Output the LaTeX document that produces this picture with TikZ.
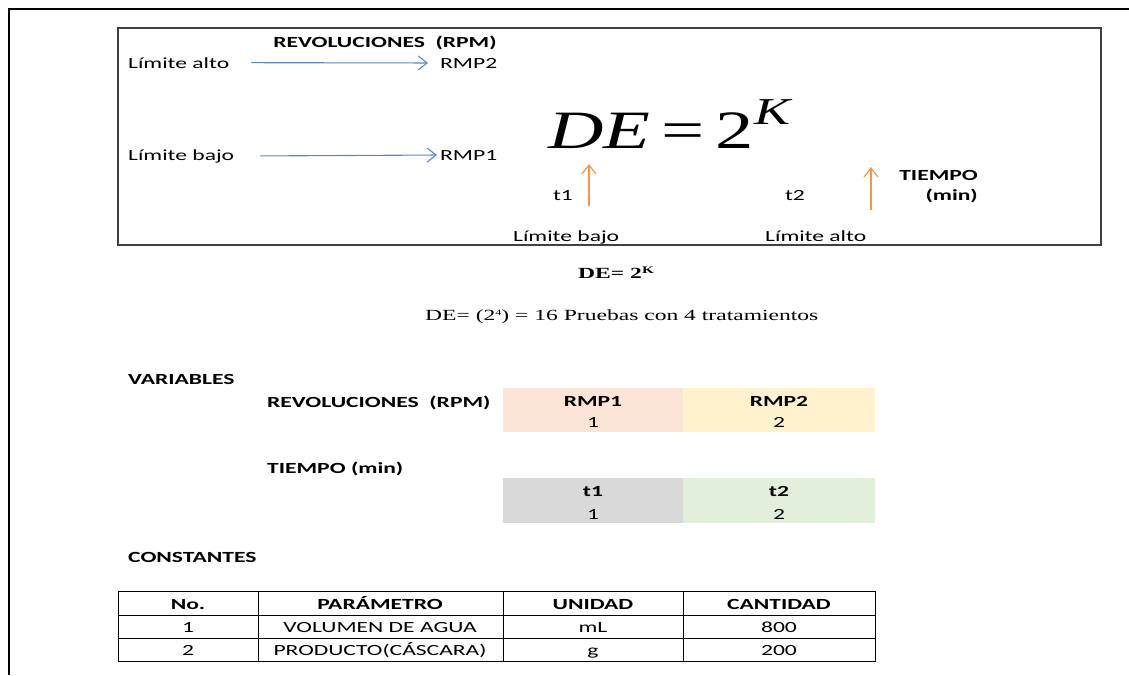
\documentclass[tikz,border=0pt]{standalone}
\usepackage{fontspec}
\setmainfont{Carlito}[FakeStretch=1.52]
\newfontfamily\tnr{Liberation Serif}[FakeStretch=1.52]
\newfontfamily\eqf{Liberation Serif}[FakeStretch=1.42]
\usetikzlibrary{arrows.meta}
\definecolor{arrblue}{HTML}{5B87C8}
\definecolor{arrorange}{HTML}{F79646}
\definecolor{peach}{HTML}{FCE4D6}
\definecolor{cream}{HTML}{FFF2CC}
\definecolor{lgray}{HTML}{D9D9D9}
\definecolor{lgreen}{HTML}{E2EFDA}
\tikzstyle{txt}=[inner sep=0pt,font=\fontsize{15.5}{18}\selectfont]
\tikzstyle{btxt}=[inner sep=0pt,font=\fontsize{15.5}{18}\selectfont\bfseries]
\tikzstyle{rtxt}=[inner sep=0pt,font=\fontsize{15.5}{18}\selectfont\tnr]
\tikzstyle{barrow}=[draw=arrblue,line width=1.1pt,-{Straight Barb[length=9pt,width=14pt]}]
\tikzstyle{oarrow}=[draw=arrorange,line width=1.2pt,-{Straight Barb[length=9pt,width=14pt]}]
\newcommand{\pxscale}{1pt}

\begin{document}
\begin{tikzpicture}[x=\pxscale,y=-\pxscale]
    \useasboundingbox (0,0) rectangle (1129,675);
    % page frame
    \draw[line width=2.2pt] (9,675) -- (9,9) -- (1129,9);
    \draw[line width=1.6pt,black!75] (118,28) rectangle (1101,245);
    % revoluciones
    \node[btxt] (rev) at (385,47) [anchor=base] {REVOLUCIONES\ \ (RPM)};
    \node[txt,anchor=base west] (limA) at (128,68) {Límite alto};
    \node[txt,anchor=base west] (rmp2) at (440,68) {RMP2};
    \node[txt,anchor=base west] (limB) at (128,160) {Límite bajo};
    \node[txt,anchor=base west] (rmp1) at (440,160) {RMP1};
    \draw[barrow] ([xshift=22pt]limA.east) -- ([xshift=-12pt]rmp2.west);
    \draw[barrow] ([xshift=26pt]limB.east) -- ([xshift=-3pt]rmp1.west);
    % formula
    \node[inner sep=0pt,anchor=base west] (eq) at (548,148)
        {\fontsize{54}{60}\selectfont\eqf\itshape DE\kern11pt\upshape=\kern11pt2\raisebox{24pt}{\fontsize{38}{40}\selectfont\itshape K}};
    % tiempo
    \node[txt,anchor=base] (t1) at (563,200) {t1};
    \node[txt,anchor=base] (t2) at (795,200) {t2};
    \node[btxt,anchor=base east] (tiem) at (978,180) {TIEMPO};
    \node[btxt,anchor=base east] (mins) at (978,200) {(min)};
    \node[txt,anchor=base west] (limB2) at (513,241) {Límite bajo};
    \node[txt,anchor=base west] (limA2) at (765,241) {Límite alto};
    \coordinate (o1a) at (589,206);
    \coordinate (o1b) at (589,164);
    \coordinate (o2a) at (871,210);
    \coordinate (o2b) at (871,167);
    \draw[oarrow] (o1a) -- (o1b);
    \draw[oarrow] (o2a) -- (o2b);
    % diseno
    \node[rtxt,anchor=base] (de) at (616,278) {\bfseries DE= 2\raisebox{5pt}{\fontsize{10}{10}\selectfont K}};
    \node[rtxt,anchor=base west] (pru) at (425,320)
        {DE= (2\raisebox{5pt}{\fontsize{8}{8}\selectfont 4}) = 16 Pruebas\ con 4 tratamientos};
    % variables
    \node[btxt,anchor=base west] (var) at (128,384) {VARIABLES};
    \node[btxt,anchor=base west] (rev2) at (267,407) {REVOLUCIONES\ \ (RPM)};
    \fill[peach] (503,388) rectangle (683,432);
    \fill[cream] (683,388) rectangle (875,432);
    \node[btxt,anchor=base] (c11) at (593,406) {RMP1};
    \node[txt,anchor=base] (c12) at (593,427) {1};
    \node[btxt,anchor=base] (c21) at (779,406) {RMP2};
    \node[txt,anchor=base] (c22) at (779,427) {2};
    \node[btxt,anchor=base west] (tie2) at (267,473) {TIEMPO (min)};
    \fill[lgray] (503,478) rectangle (683,523);
    \fill[lgreen] (683,478) rectangle (875,523);
    \node[btxt,anchor=base] (d11) at (593,496) {t1};
    \node[txt,anchor=base] (d12) at (593,519) {1};
    \node[btxt,anchor=base] (d21) at (779,496) {t2};
    \node[txt,anchor=base] (d22) at (779,519) {2};
    % constantes
    \node[btxt,anchor=base west] (con) at (128,562) {CONSTANTES};
    \draw[line width=1pt] (118,591) rectangle (875,661);
    \draw[line width=0.8pt] (118,615) -- (875,615) (118,638) -- (875,638);
    \foreach \cx in {258,503,683}
        \draw[line width=0.8pt] (\cx,591) -- (\cx,661);
    \node[btxt,anchor=base] (h1) at (188,609) {No.};
    \node[btxt,anchor=base] (h2) at (380,609) {PARÁMETRO};
    \node[btxt,anchor=base] (h3) at (593,609) {UNIDAD};
    \node[btxt,anchor=base] (h4) at (779,609) {CANTIDAD};
    \node[txt,anchor=base] (r11) at (188,632) {1};
    \node[txt,anchor=base] (r12) at (380,632) {VOLUMEN\ DE AGUA};
    \node[txt,anchor=base] (r13) at (593,632) {mL};
    \node[txt,anchor=base] (r14) at (779,632) {800};
    \node[txt,anchor=base] (r21) at (188,655) {2};
    \node[txt,anchor=base] (r22) at (380,655) {PRODUCTO(CÁSCARA)};
    \node[txt,anchor=base] (r23) at (593,655) {g};
    \node[txt,anchor=base] (r24) at (779,655) {200};
\end{tikzpicture}
\end{document}
